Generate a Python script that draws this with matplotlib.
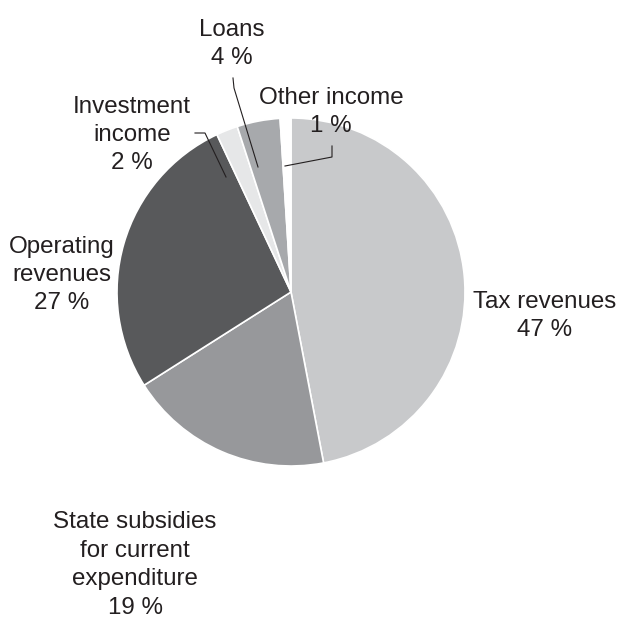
import matplotlib.pyplot as plt

plt.rcParams['font.family'] = ['Liberation Sans', 'DejaVu Sans']

labels = ['Tax revenues', 'State subsidies\nfor current\nexpenditure', 'Operating\nrevenues',
          'Investment\nincome', 'Loans', 'Other income']
shares = [47, 19, 27, 2, 4, 1]
colors = ['#c8c9cb', '#97989b', '#58595b', '#e6e7e8', '#a7a9ac', '#ffffff']

# label block centres in pixels, measured from the top
label_pos = [(545, 316), (135, 565), (62, 275), (132, 135), (232, 44), (331, 112)]

H = 619
fig = plt.figure(figsize=(6.19, 6.19), dpi=100)
ax = fig.add_axes([0, 0, 1, 1])

ax.pie(shares, colors=colors, startangle=90, counterclock=False,
       center=(291, H - 292), radius=174,
       wedgeprops=dict(edgecolor='white', linewidth=1.2))
ax.set_xlim(0, H)
ax.set_ylim(0, H)
ax.set_aspect('equal')
ax.axis('off')

txt = '#231f20'
for lab, val, (x, y) in zip(labels, shares, label_pos):
    ax.text(x, H - y, lab + '\n%d %%' % val, ha='center', va='center',
            multialignment='center', fontsize=17.4, color=txt,
            linespacing=1.38)

# leader lines for the small slices
leaders = [
    [(195, 133), (205, 133), (226, 177)],
    [(233, 78), (234, 88), (258, 167)],
    [(332, 146), (332, 157), (285, 166)],
]
for pts in leaders:
    ax.plot([p[0] for p in pts], [H - p[1] for p in pts], color=txt, lw=0.8)

fig.savefig('out.png', dpi=100, facecolor='white')
